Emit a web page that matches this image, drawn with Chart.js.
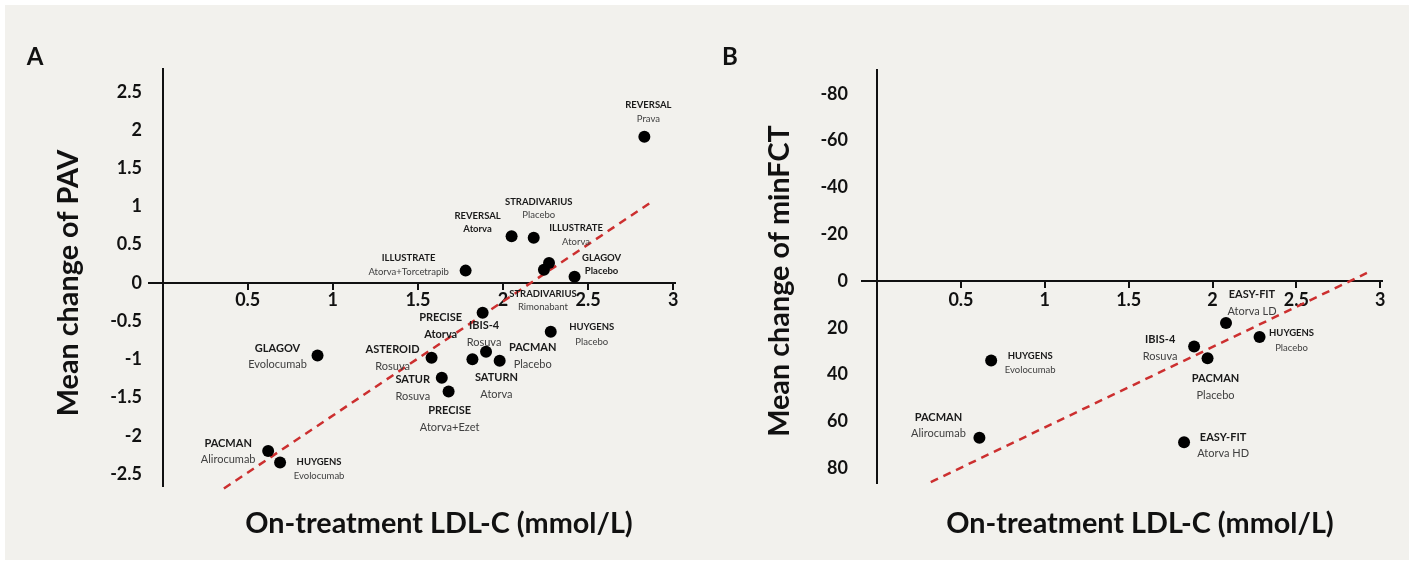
<!DOCTYPE html>
<html>
<head>
<meta charset="utf-8">
<script src="https://cdn.jsdelivr.net/npm/chart.js@4.4.1/dist/chart.umd.min.js"></script>
<style>
    html, body { margin: 0; padding: 0; background: #ffffff; }
    #frame { position: absolute; left: 5px; top: 5px; width: 1404px; height: 555px; background: #f2f1ed; }
    #chartA { position: absolute; left: 0; top: 0; }
    #chartB { position: absolute; left: 700px; top: 0; }
</style>
</head>
<body>
<div id="frame"></div>
<canvas id="chartA" width="700" height="565"></canvas>
<canvas id="chartB" width="714" height="565"></canvas>
<script>
// Panel A: on-treatment LDL-C vs mean change of PAV
var aTrials = ["REVERSAL", "REVERSAL", "STRADIVARIUS", "ILLUSTRATE", "STRADIVARIUS", "GLAGOV", "ILLUSTRATE",
    "PRECISE", "HUYGENS", "ASTEROID", "IBIS-4", "SATURN", "PACMAN", "SATUR", "PRECISE", "GLAGOV", "PACMAN", "HUYGENS"];
var aArms = ["Prava", "Atorva", "Placebo", "Atorva", "Rimonabant", "Placebo", "Atorva+Torcetrapib",
    "Atorva", "Placebo", "Rosuva", "Rosuva", "Atorva", "Placebo", "Rosuva", "Atorva+Ezet", "Evolocumab", "Alirocumab", "Evolocumab"];
var aLdl = [2.83, 2.05, 2.18, 2.27, 2.24, 2.42, 1.78, 1.88, 2.28, 1.58, 1.90, 1.82, 1.98, 1.64, 1.68, 0.91, 0.62, 0.69];
var aPav = [1.91, 0.61, 0.59, 0.26, 0.17, 0.08, 0.16, -0.39, -0.64, -0.98, -0.90, -1.00, -1.02, -1.24, -1.42, -0.95, -2.20, -2.35];
var aTrendX = [0.36, 2.88];
var aTrendY = [-2.69, 1.07];
var aXTicks = [0, 0.5, 1, 1.5, 2, 2.5, 3];
var aYTicks = [-2.5, -2, -1.5, -1, -0.5, 0, 0.5, 1, 1.5, 2, 2.5];

// Panel B: on-treatment LDL-C vs mean change of minFCT
var bTrials = ["HUYGENS", "PACMAN", "EASY-FIT", "HUYGENS", "IBIS-4", "PACMAN", "EASY-FIT"];
var bArms = ["Evolocumab", "Alirocumab", "Atorva LD", "Placebo", "Rosuva", "Placebo", "Atorva HD"];
var bLdl = [0.68, 0.61, 2.08, 2.28, 1.89, 1.97, 1.83];
var bFct = [34, 67, 18, 24, 28, 33, 69];
var bTrendX = [0.32, 2.92];
var bTrendY = [86, -3.4];
var bXTicks = [0, 0.5, 1, 1.5, 2, 2.5, 3];
var bYTicks = [-80, -60, -40, -20, 0, 20, 40, 60, 80];

// label placement: [dx, dy line1, dy line2, size (0 small, 1 large), both lines bold]
var aLabelPos = [
    [4, -32, -18, 0, false], [-34, -20, -7, 0, true], [5, -36, -23, 0, false], [27, -35, -21, 0, false],
    [-1, 24, 37, 0, false], [27, -19, -6, 0, true], [-57, -13, 1, 0, false], [-42, 5, 22, 1, true],
    [41, -5, 10, 0, false], [-39, -8, 9, 1, false], [-2, -26, -9, 1, false], [24, 18, 35, 1, false],
    [33, -13, 4, 1, false], [-29, 2, 19, 1, false], [1, 19, 36, 1, false], [-40, -7, 9, 1, false],
    [-40, -8, 8, 1, false], [39, -1, 13, 0, false]
];
var bLabelPos = [
    [39, -5, 9, 0, false], [-41, -20, -4, 1, false], [26, -29, -12, 1, false], [32, -4, 11, 0, false],
    [-34, -7, 10, 1, false], [8, 20, 37, 1, false], [39, -5, 11, 1, false]
];

var FONT = "Lato";
var INK = "#111111";
Chart.defaults.font.family = FONT;

function toPoints(xs, ys) {
    return xs.map(function(x, i) { return { x: x, y: ys[i] }; });
}

// titles, panel letter and point labels
var annotate = {
    id: "annotate",
    afterDatasetsDraw: function(chart, args, o) {
        var ctx = chart.ctx;
        var meta = chart.getDatasetMeta(0);
        ctx.save();
        ctx.textAlign = "center";
        ctx.textBaseline = "middle";
        meta.data.forEach(function(pt, i) {
            var p = o.pos[i];
            var size = p[3] ? 11 : 9.5;
            ctx.fillStyle = "#1a1a1a";
            ctx.font = "bold " + size + "px " + FONT;
            ctx.fillText(o.trials[i], pt.x + p[0], pt.y + p[1]);
            ctx.fillStyle = p[4] ? "#1a1a1a" : "#404040";
            ctx.font = (p[4] ? "bold " : "") + size + "px " + FONT;
            ctx.fillText(o.arms[i], pt.x + p[0], pt.y + p[2]);
        });

        // axis titles, sized to the width of the reference title
        var xTitle = "On-treatment LDL-C (mmol/L)";
        ctx.font = "bold 100px " + FONT;
        var titleSize = 100 * 387 / ctx.measureText(xTitle).width;
        ctx.font = "bold " + titleSize.toFixed(1) + "px " + FONT;
        ctx.fillStyle = INK;
        ctx.textBaseline = "alphabetic";
        ctx.fillText(xTitle, o.xTitleX, 533);
        ctx.save();
        ctx.translate(o.yTitleX, o.yTitleY);
        ctx.rotate(-Math.PI / 2);
        ctx.fillText(o.yTitle, 0, 0);
        ctx.restore();

        ctx.font = "bold 24px " + FONT;
        ctx.fillText(o.letter, o.letterX, 65);
        ctx.restore();
    }
};

function makeChart(id, cfg) {
    return new Chart(document.getElementById(id), {
        type: "scatter",
        data: {
            datasets: [
                {
                    data: toPoints(cfg.xs, cfg.ys),
                    backgroundColor: "#000000",
                    borderWidth: 0,
                    pointRadius: 6,
                    pointHoverRadius: 6,
                    clip: false
                },
                {
                    data: toPoints(cfg.trendX, cfg.trendY),
                    showLine: true,
                    borderColor: "#cc2f2f",
                    borderWidth: 2.5,
                    borderDash: [8, 6],
                    pointRadius: 0,
                    fill: false,
                    clip: false
                }
            ]
        },
        options: {
            responsive: false,
            animation: false,
            events: [],
            layout: { padding: cfg.padding },
            plugins: {
                legend: { display: false },
                tooltip: { enabled: false },
                annotate: cfg.notes
            },
            scales: {
                x: {
                    type: "linear",
                    position: { y: 0 },
                    min: cfg.xMin,
                    max: cfg.xMax,
                    afterFit: function(scale) { scale.height = 0; },
                    afterBuildTicks: function(scale) {
                        scale.ticks = cfg.xTicks.map(function(v) { return { value: v }; });
                    },
                    grid: {
                        drawOnChartArea: true,
                        lineWidth: 2,
                        // only the grid line at 0 is shown: it is the vertical axis
                        color: function(c) { return c.tick && c.tick.value === 0 ? INK : "rgba(0,0,0,0)"; },
                        tickColor: INK,
                        tickWidth: 2,
                        tickLength: 6
                    },
                    border: { display: true, color: INK, width: 2 },
                    ticks: {
                        autoSkip: false,
                        maxRotation: 0,
                        padding: cfg.xPad,
                        color: INK,
                        font: { family: FONT, weight: "bold", size: 18 },
                        callback: function(v) { return v === 0 ? "" : String(v); }
                    }
                },
                y: {
                    type: "linear",
                    position: "left",
                    reverse: cfg.reverse,
                    min: cfg.yMin,
                    max: cfg.yMax,
                    afterFit: function(scale) { scale.width = cfg.yWidth; },
                    afterBuildTicks: function(scale) {
                        scale.ticks = cfg.yTicks.map(function(v) { return { value: v }; });
                    },
                    grid: { drawOnChartArea: false, drawTicks: false },
                    border: { display: false },
                    ticks: {
                        autoSkip: false,
                        padding: cfg.yPad,
                        color: INK,
                        font: { family: FONT, weight: "bold", size: 18 },
                        callback: function(v) { return String(v); }
                    }
                }
            }
        },
        plugins: [annotate]
    });
}

var chartA = makeChart("chartA", {
    xs: aLdl, ys: aPav, trendX: aTrendX, trendY: aTrendY,
    xTicks: aXTicks, yTicks: aYTicks,
    xMin: -0.08, xMax: 3.01, yMin: -2.67, yMax: 2.81, reverse: false,
    padding: { left: 0, right: 25, top: 68, bottom: 78 },
    yWidth: 149, yPad: 7, xPad: 1,
    notes: {
        trials: aTrials, arms: aArms, pos: aLabelPos,
        yTitle: "Mean change of PAV", xTitleX: 439, yTitleX: 78, yTitleY: 283,
        letter: "A", letterX: 35
    }
});

var chartB = makeChart("chartB", {
    xs: bLdl, ys: bFct, trendX: bTrendX, trendY: bTrendY,
    xTicks: bXTicks, yTicks: bYTicks,
    xMin: -0.09, xMax: 3.01, yMin: -90.6, yMax: 86.8, reverse: true,
    padding: { left: 0, right: 32, top: 69, bottom: 81 },
    yWidth: 162, yPad: 14, xPad: 2,
    notes: {
        trials: bTrials, arms: bArms, pos: bLabelPos,
        yTitle: "Mean change of minFCT", xTitleX: 440, yTitleX: 89, yTitleY: 281,
        letter: "B", letterX: 30
    }
});
</script>
</body>
</html>
